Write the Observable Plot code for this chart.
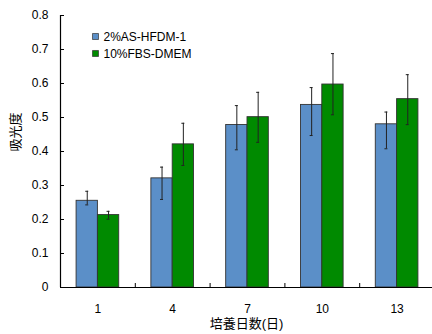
<!DOCTYPE html>
<html><head><meta charset="utf-8">
<script src="https://cdn.jsdelivr.net/npm/d3@7"></script>
<script src="https://cdn.jsdelivr.net/npm/@observablehq/plot@0.6"></script>
<style>
html,body{margin:0;padding:0;background:#fff;}
#chart svg{display:block;}
</style>
</head><body><div id="chart"></div>
<script>
const days = ["1", "4", "7", "10", "13"];
const seriesNames = ["2%AS-HFDM-1", "10%FBS-DMEM"];
const seriesColors = ["#5B8FC8", "#008A00"];
const blueMean = [0.255, 0.321, 0.478, 0.537, 0.480];
const blueLow = [0.243, 0.259, 0.405, 0.447, 0.408];
const blueHigh = [0.283, 0.354, 0.535, 0.588, 0.516];
const greenMean = [0.213, 0.421, 0.501, 0.597, 0.554];
const greenLow = [0.201, 0.359, 0.427, 0.508, 0.479];
const greenHigh = [0.224, 0.483, 0.574, 0.688, 0.626];
const yTicks = [0, 0.1, 0.2, 0.3, 0.4, 0.5, 0.6, 0.7, 0.8];
const xTitle = "培養日数(日)";
const yTitle = "吸光度";

const barW = 0.285;
const capW = 0.02;
const rows = [];
days.forEach((d, i) => {
  rows.push({i, s: 0, x1: i - barW, x2: i, c: i - barW / 2, v: blueMean[i], lo: blueLow[i], hi: blueHigh[i]});
  rows.push({i, s: 1, x1: i, x2: i + barW, c: i + barW / 2, v: greenMean[i], lo: greenLow[i], hi: greenHigh[i]});
});

const font = "'Liberation Sans', Arial, 'Noto Sans CJK JP', sans-serif";

const chart = Plot.plot({
  width: 432,
  height: 334,
  marginLeft: 60,
  marginRight: 0,
  marginTop: 15,
  marginBottom: 47,
  style: {fontFamily: font, fontSize: "12px", color: "#000", background: "#fff"},
  x: {domain: [-0.5, 4.5], range: [60, 434]},
  y: {domain: [0, 0.8]},
  marks: [
    Plot.rectY(rows, {x1: "x1", x2: "x2", y1: 0, y2: "v", fill: d => seriesColors[d.s], stroke: "#333", strokeWidth: 0.9}),
    Plot.ruleX(rows, {x: "c", y1: "lo", y2: "hi", stroke: "#222", strokeWidth: 1}),
    Plot.ruleY(rows, {y: "hi", x1: d => d.c - capW, x2: d => d.c + capW, stroke: "#222", strokeWidth: 1}),
    Plot.ruleY(rows, {y: "lo", x1: d => d.c - capW, x2: d => d.c + capW, stroke: "#222", strokeWidth: 1}),
    Plot.ruleX([-0.5], {y1: 0, y2: 0.8, stroke: "#000", strokeWidth: 1.2}),
    Plot.ruleY([0], {stroke: "#000", strokeWidth: 1.2}),
    Plot.axisY({ticks: yTicks, tickSize: 0, tickPadding: 12, tickFormat: d => String(d), label: null, fontSize: 12}),
    Plot.axisY({ticks: yTicks, tickSize: 4, dx: 4, tickFormat: () => "", label: null}),
    Plot.axisX({ticks: [0.5, 1.5, 2.5, 3.5], tickSize: 4, dy: -4, tickFormat: () => "", label: null}),
    Plot.axisX({ticks: [0, 1, 2, 3, 4], tickSize: 0, tickPadding: 17, tickFormat: i => days[i], label: null, fontSize: 12}),
    Plot.text([xTitle], {frameAnchor: "bottom", dy: 36, fontSize: 13, lineAnchor: "middle"}),
    Plot.text([yTitle], {frameAnchor: "left", dx: -45, rotate: -90, fontSize: 13, lineAnchor: "middle", letterSpacing: "1.5px"}),
    Plot.dot([seriesNames[0]], {frameAnchor: "top-left", dx: 35, dy: 21, symbol: "square", r: 3.4, fill: seriesColors[0], stroke: "#333", strokeWidth: 0.7}),
    Plot.dot([seriesNames[1]], {frameAnchor: "top-left", dx: 35, dy: 38, symbol: "square", r: 3.4, fill: seriesColors[1], stroke: "#333", strokeWidth: 0.7}),
    Plot.text([seriesNames[0]], {frameAnchor: "top-left", dx: 43, dy: 22, textAnchor: "start", lineAnchor: "middle", fontSize: 12}),
    Plot.text([seriesNames[1]], {frameAnchor: "top-left", dx: 43, dy: 39, textAnchor: "start", lineAnchor: "middle", fontSize: 12})
  ]
});
document.getElementById("chart").appendChild(chart);
</script>
</body></html>
